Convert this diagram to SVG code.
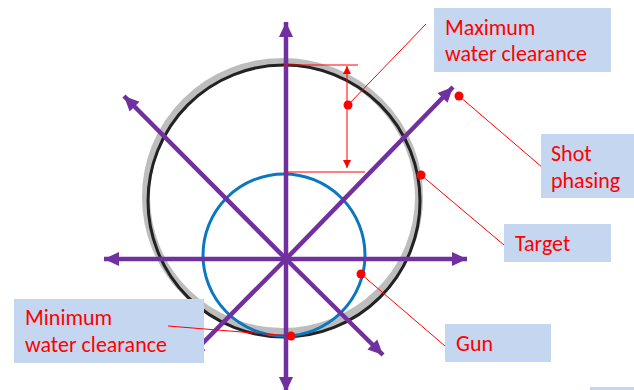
<svg xmlns="http://www.w3.org/2000/svg" width="634" height="390" viewBox="0 0 634 390">
<defs>
<marker id="pa" markerUnits="userSpaceOnUse" markerWidth="16" markerHeight="16" refX="15" refY="8" orient="auto"><path d="M0 1L15 8L0 15z" fill="#7030a0"/></marker>
<marker id="ra" markerUnits="userSpaceOnUse" markerWidth="9" markerHeight="9" refX="8" refY="4" orient="auto"><path d="M0 0L8 4L0 8z" fill="#ff0000"/></marker>
</defs>
<style>
.box{fill:#c5d7f0}
.lbl{font-family:"Carlito","Liberation Sans",Arial,sans-serif;font-size:22px;fill:#ff0000}
.ax{stroke:#7030a0;stroke-width:4.500;fill:none;marker-end:url(#pa)}
.rl{stroke:#ff0000;stroke-width:1;fill:none}
.dot{fill:#ff0000}
</style>
<rect width="634" height="390" fill="#fff"/>
<g id="target-circle"><ellipse cx="282.500" cy="197" rx="136.500" ry="135" fill="none" stroke="#bdbdbd" stroke-width="8"/></g>
<g id="black-circle"><circle cx="284" cy="201" r="136" fill="none" stroke="#222" stroke-width="3"/></g>
<g id="gun-circle"><circle cx="284" cy="255" r="81" fill="none" stroke="#0a77c2" stroke-width="3"/></g>
<g id="connectors">
<line class="ax" x1="286" y1="259" x2="286" y2="22"/>
<line class="ax" x1="286" y1="259" x2="286" y2="392"/>
<line class="ax" x1="286" y1="259" x2="104" y2="259"/>
<line class="ax" x1="286" y1="259" x2="467" y2="259"/>
<line class="ax" x1="286" y1="259" x2="124" y2="96"/>
<line class="ax" x1="286" y1="259" x2="453" y2="87"/>
<line class="ax" x1="286" y1="259" x2="383" y2="355"/>
<line class="ax" x1="286" y1="259" x2="190" y2="356"/>
<line class="rl" x1="284" y1="65" x2="358" y2="65"/>
<line class="rl" x1="286" y1="172" x2="365" y2="172"/>
<line class="rl" x1="347" y1="105" x2="347" y2="66" marker-end="url(#ra)"/>
<line class="rl" x1="347" y1="105" x2="347" y2="168" marker-end="url(#ra)"/>
<line class="rl" x1="348" y1="105" x2="426" y2="24"/>
<line class="rl" x1="459" y1="96" x2="543" y2="168"/>
<line class="rl" x1="421" y1="175" x2="504" y2="245"/>
<line class="rl" x1="361" y1="274" x2="445" y2="346"/>
</g>
<g id="max-clearance"><rect class="box" x="434" y="8" width="177" height="64"/><text class="lbl" x="445" y="35">Maximum</text><text class="lbl" x="445" y="61">water clearance</text><circle class="dot" cx="348" cy="105" r="4.500"/></g>
<g id="shot-phasing"><rect class="box" x="541" y="134" width="93" height="64"/><text class="lbl" x="551" y="161">Shot</text><text class="lbl" x="551" y="188">phasing</text><circle class="dot" cx="459" cy="96" r="4.500"/></g>
<g id="target"><rect class="box" x="504" y="224" width="107" height="38"/><text class="lbl" x="515" y="251">Target</text><circle class="dot" cx="421" cy="175" r="4.500"/></g>
<g id="gun"><rect class="box" x="445" y="324" width="106" height="38"/><text class="lbl" x="456" y="351">Gun</text><circle class="dot" cx="361" cy="274" r="4.500"/></g>
<g id="min-clearance"><rect class="box" x="14" y="299" width="190" height="64"/><text class="lbl" x="25" y="325">Minimum</text><text class="lbl" x="25" y="352">water clearance</text><line class="rl" x1="168" y1="326" x2="291" y2="336"/><circle class="dot" cx="291" cy="336" r="4.500"/></g>
<g id="corner"><rect class="box" x="590" y="387" width="44" height="3"/></g>
</svg>
